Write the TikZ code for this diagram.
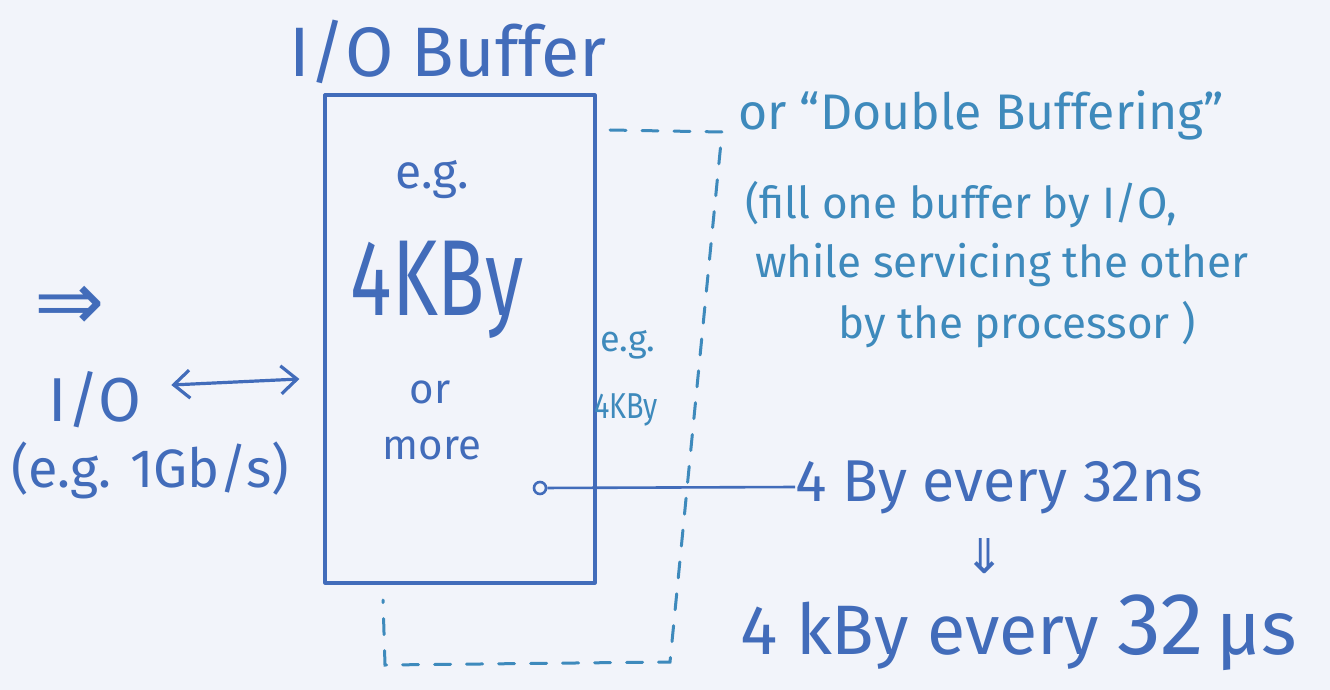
\documentclass[tikz,border=0pt]{standalone}
\usepackage{fontspec}
\setmainfont{Fira Sans}
\newfontfamily\symfont{DejaVu Sans}
\usetikzlibrary{arrows.meta}
\definecolor{paper}{RGB}{242,244,250}
\definecolor{ink}{RGB}{66,108,186}
\definecolor{teal}{RGB}{62,138,188}
\tikzset{
  pen/.style={draw=ink, line width=3.2pt, line cap=round, line join=round},
  lbl/.style={text=ink, inner sep=0pt, anchor=center},
  tlbl/.style={text=teal, inner sep=0pt, anchor=center},
  dashbuf/.style={draw=teal, line width=3pt, dash pattern=on 16pt off 16pt, line cap=round}
}
\newcommand{\fs}[1]{\fontsize{#1}{#1}\selectfont}
\begin{document}
\begin{tikzpicture}[x=1pt,y=-1pt]
\fill[paper] (0,0) rectangle (1330,690);
\useasboundingbox (0,0) rectangle (1330,690);

% title
\node[lbl] (title) at (448,52) {\fs{70}I/O Buffer};

% main buffer
\node[pen, minimum width=270pt, minimum height=488pt, inner sep=0pt] (buf) at (460,339) {};
\node[lbl] (eg1) at (432,180) {\fs{48}e.g.};
\node[lbl] (kb1) at (437,290) {\scalebox{0.72}[1]{\fs{108}4KBy}};
\node[lbl] (or1) at (430,392) {\fs{42}or};
\node[lbl] (more) at (432,448) {\fs{42}more};

% second (dashed) buffer
\coordinate (d1) at (610,130);
\coordinate (d2) at (722,132);
\coordinate (d3) at (670,662);
\coordinate (d4) at (385,665);
\coordinate (d5) at (383,600);
\draw[dashbuf] (d1) -- (d2) -- (d3) -- (d4) -- (d5);
\node[tlbl] (eg2) at (628,345) {\fs{36}e.g.};
\node[tlbl] (kb2) at (626,410) {\scalebox{0.8}[1]{\fs{36}4KBy}};

% left side
\node[lbl] (dbl) at (70,308) {\fs{84}\symfont ⇒};
\node[lbl] (io) at (95,400) {\fs{62}I/O};
\node[lbl] (rate) at (150,470) {\fs{54}(e.g. 1Gb/s)};
\draw[pen, {Straight Barb[length=16pt,width=28pt]}-{Straight Barb[length=16pt,width=28pt]}] (io.east) ++(30,-15) coordinate (a1) (a1) -- ([xshift=-24pt,yshift=-40pt]buf.west);

% output line
\node[draw=ink, line width=2.6pt, circle, fill=paper, inner sep=0pt, minimum size=12pt] (dot) at (540,488) {};
\node[lbl, anchor=west] (out1) at (795,487) {\fs{59}4 By every 32ns};
\draw[draw=ink, line width=2.6pt] (dot) -- (out1.west);
\node[lbl] (down) at (985,556) {\fs{48}\symfont ⇓};
\node[lbl, anchor=west] (out2) at (740,633) {\fs{70}4 kBy every \fs{88}32\fs{76}\,µs};

% double buffering remark
\node[tlbl, anchor=west] (r1) at (738,115) {\fs{50}or “Double Buffering”};
\node[tlbl, anchor=west] (r2) at (745,205) {\fs{44}(fill one buffer by I/O,};
\node[tlbl, anchor=west] (r3) at (755,265) {\fs{44}while servicing the other};
\node[tlbl, anchor=west] (r4) at (838,325) {\fs{44}by the processor )};
\end{tikzpicture}
\end{document}
